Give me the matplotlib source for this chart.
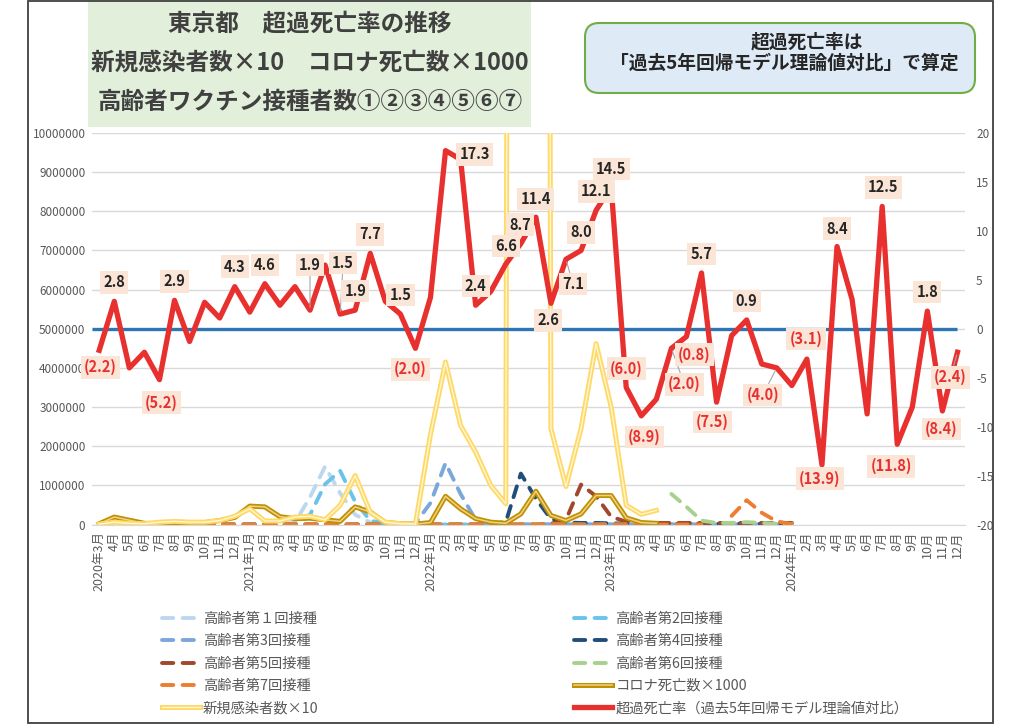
import matplotlib
matplotlib.use('Agg')
import matplotlib.pyplot as plt
import matplotlib.patheffects as pe
from matplotlib.patches import Rectangle, FancyBboxPatch
from matplotlib.ticker import FuncFormatter
import numpy as np

plt.rcParams['font.family'] = ['Noto Sans CJK JP', 'DejaVu Sans']
plt.rcParams['axes.unicode_minus'] = False

# 月のラベル（2020年3月〜2024年12月）
months = []
for yr in range(2020, 2025):
    for m in range(1, 13):
        if yr == 2020 and m < 3:
            continue
        months.append(f'{yr}年{m}月' if (m == 1 or not months) else f'{m}月')

# 超過死亡率（%、右軸）
excess = [-2.2, 2.8, -4.0, -2.4, -5.2, 2.9, -1.3, 2.7, 1.1, 4.3,
          1.7, 4.6, 2.4, 4.3, 1.9, 6.5, 1.5, 1.9, 7.7, 2.8,
          1.5, -2.0, 3.2, 18.2, 17.3, 2.4, 3.8, 6.6, 8.7, 11.4,
          2.6, 7.1, 8.0, 12.1, 14.5, -6.0, -8.9, -7.2, -2.0, -0.8,
          5.7, -7.5, -0.7, 0.9, -3.6, -4.0, -5.8, -3.1, -13.9, 8.4,
          3.0, -8.7, 12.5, -11.8, -8.0, 1.8, -8.4, -2.4]

# 新規感染者数×10（千人、左軸）2023年4月まで
cases_x10_k = [10, 60, 30, 20, 60, 80, 60, 60, 100, 210,
               400, 90, 90, 190, 210, 120, 490, 1250, 310, 60,
               20, 10, 2300, 4150, 2530, 1850, 1000, 530, 150000, 150000,
               2450, 970, 2450, 4620, 3000, 490, 260, 360]

# コロナ死亡数×1000（千人、左軸）
deaths_x1000_k = [20, 190, 110, 30, 20, 50, 50, 50, 100, 180,
                  470, 450, 200, 150, 160, 120, 80, 450, 320, 50,
                  20, 10, 50, 720, 400, 150, 60, 30, 270, 850,
                  230, 100, 270, 740, 740, 170, 50, 30]

nan = float('nan')
# 高齢者ワクチン接種者数（千人）2024年2月まで
dose1_k = [0]*13 + [50, 700, 1480, 800, 250, 50, 20] + [0]*27
dose2_k = [0]*14 + [250, 1030, 1370, 580, 100, 20] + [0]*27
dose3_k = [0]*21 + [30, 550, 1570, 780, 120, 30] + [0]*20
dose4_k = [0]*26 + [20, 60, 1300, 660, 140, 50, 40, 40, 30] + [20]*12
dose5_k = [0]*30 + [20, 120, 1020, 720, 200, 70] + [40]*11
dose6_k = [0]*37 + [nan, 780, 450, 100, 40, 40, 60, 40, 20, 10]
dose7_k = [0]*41 + [nan, 220, 620, 300, 80, 10]

dose_labels = ['高齢者第１回接種', '高齢者第2回接種', '高齢者第3回接種', '高齢者第4回接種',
               '高齢者第5回接種', '高齢者第6回接種', '高齢者第7回接種']
dose_colors = ['#bdd7ee', '#6ac3ea', '#7ba7da', '#1f4e79', '#a0482b', '#a9d18e', '#ed7d31']

# データラベル位置（点からのずれ px）
label_offsets = {0: (1, -17), 1: (0, 19), 4: (2, -23), 5: (0, 19), 9: (0, 20), 11: (0, 19),
                 14: (0, 45), 16: (3, 51), 17: (0, 19), 18: (0, 19), 20: (0, 19), 21: (-5, -21),
                 24: (14, 5), 25: (0, 19), 27: (0, 18), 28: (-1, 19), 29: (0, 18), 30: (-3, -17),
                 31: (7, -25), 32: (0, 18), 33: (0, 19), 34: (0, 18), 35: (0, 19), 36: (3, -21),
                 38: (13, -36), 39: (8, -18), 40: (0, 19), 41: (-4, -20), 43: (0, 19), 45: (-14, -27),
                 47: (-1, 20), 48: (-2, -14), 49: (0, 18), 52: (1, 19), 53: (-6, -22), 55: (0, 19),
                 56: (-1, -18), 57: (-7, -25)}

W, H = 1024, 725
def fx(px):
    return px / W
def fy(py):
    return 1 - py / H

fig = plt.figure(figsize=(W / 100, H / 100), dpi=100)

# 外枠とタイトル背景
fig.add_artist(Rectangle((fx(28), fy(723)), fx(993) - fx(28), fy(1) - fy(723), fill=False,
                         ec='#404040', lw=1.3, transform=fig.transFigure))
fig.add_artist(Rectangle((fx(88), fy(127)), fx(531) - fx(88), fy(0) - fy(127),
                         fc='#e2efda', ec='none', transform=fig.transFigure, zorder=0))
for ty, t in [(23, '東京都　超過死亡率の推移'),
              (63, '新規感染者数×10　コロナ死亡数×1000'),
              (102, '高齢者ワクチン接種者数①②③④⑤⑥⑦')]:
    fig.text(fx(310), fy(ty), t, ha='center', va='center',
             fontsize=17, fontweight='bold', color='#404040')

fig.add_artist(FancyBboxPatch((fx(585), fy(93)), fx(975) - fx(585), fy(23) - fy(93),
                              boxstyle='round,pad=0,rounding_size=0.014', mutation_aspect=W / H,
                              fc='#deebf7', ec='#70ad47', lw=1.5, transform=fig.transFigure))
fig.text(fx(807), fy(42), '超過死亡率は', ha='center', va='center',
         fontsize=13.5, fontweight='bold', color='#262626')
fig.text(fx(784), fy(63), '「過去5年回帰モデル理論値対比」で算定', ha='center', va='center',
         fontsize=13.5, fontweight='bold', color='#262626')

ax = fig.add_axes([fx(91.7), fy(524.5), fx(965) - fx(91.7), fy(133) - fy(524.5)])
ax2 = ax.twinx()

x = np.arange(len(months))
dash = (0, (2.9, 2.4))
handles = []
for vals, col, lab in zip([dose1_k, dose2_k, dose3_k, dose4_k, dose5_k, dose6_k, dose7_k],
                          dose_colors, dose_labels):
    v = np.array(vals, dtype=float) * 1000
    ln, = ax.plot(np.arange(len(v)), v, color=col, lw=2.8, ls=dash,
                  dash_capstyle='round', label=lab)
    handles.append(ln)

d = np.array(deaths_x1000_k, dtype=float) * 1000
h_deaths, = ax.plot(np.arange(len(d)), d, color='#f1d18a', lw=1.1,
                    path_effects=[pe.Stroke(linewidth=3.6, foreground='#bf9000'), pe.Normal()],
                    label='コロナ死亡数×1000')
c = np.array(cases_x10_k, dtype=float) * 1000
h_cases, = ax.plot(np.arange(len(c)), c, color='#fff6d5', lw=1.0,
                   path_effects=[pe.Stroke(linewidth=3.6, foreground='#ffd966'), pe.Normal()],
                   label='新規感染者数×10')

ax2.hlines(0, -0.5, x[-1], color='#2e75b6', lw=2.4, zorder=2)
h_red, = ax2.plot(x, excess, color='#e8302f', lw=3.8, zorder=3,
                  label='超過死亡率（過去5年回帰モデル理論値対比）')

for i, (dx, dy) in label_offsets.items():
    v = excess[i]
    txt = f'{v:.1f}' if v >= 0 else f'({-v:.1f})'
    col = '#262626' if v >= 0 else '#e8302f'
    arrow = None
    if np.hypot(dx, dy) > 24:
        arrow = dict(arrowstyle='-', color='#a6a6a6', lw=0.8, shrinkA=0, shrinkB=2)
    ax2.annotate(txt, (i, v), xytext=(dx * 0.72, dy * 0.72), textcoords='offset points',
                 ha='center', va='center', fontsize=10.5, fontweight='bold', color=col,
                 bbox=dict(boxstyle='square,pad=0.22', fc='#fbe5d6', ec='none'),
                 arrowprops=arrow, zorder=5)

ax.set_xlim(-0.5, len(months) - 0.5)
ax.set_ylim(0, 10000000)
ax.set_yticks(np.arange(0, 10000001, 1000000))
ax.yaxis.set_major_formatter(FuncFormatter(lambda v, p: f'{int(v)}'))
ax2.set_ylim(-20, 20)
ax2.set_yticks(np.arange(-20, 21, 5))
ax.set_xticks(x)
ax.set_xticklabels(months, rotation=90, fontsize=9, color='#595959')
ax.grid(axis='y', color='#d9d9d9', lw=1)
ax.set_axisbelow(True)
for a in (ax, ax2):
    for s in a.spines.values():
        s.set_visible(False)
ax.spines['bottom'].set_visible(True)
ax.spines['bottom'].set_color('#d9d9d9')
ax.tick_params(axis='x', length=0, pad=5)
ax.tick_params(axis='y', length=0, pad=4.5, labelsize=8.5, labelcolor='#595959')
ax2.tick_params(axis='y', length=0, pad=8, labelsize=8.5, labelcolor='#595959')

order = [handles[0], handles[2], handles[4], handles[6], h_cases,
         handles[1], handles[3], handles[5], h_deaths, h_red]
leg = fig.legend(handles=order, labels=[h.get_label() for h in order], ncol=2,
                 loc='upper left', bbox_to_anchor=(fx(162), fy(612)), frameon=False,
                 fontsize=10.3, handlelength=2.65, handletextpad=0.2, columnspacing=17.9,
                 labelspacing=0.58, borderaxespad=0, borderpad=0)
for t in leg.get_texts():
    t.set_color('#595959')

fig.savefig('out.png', dpi=100)
